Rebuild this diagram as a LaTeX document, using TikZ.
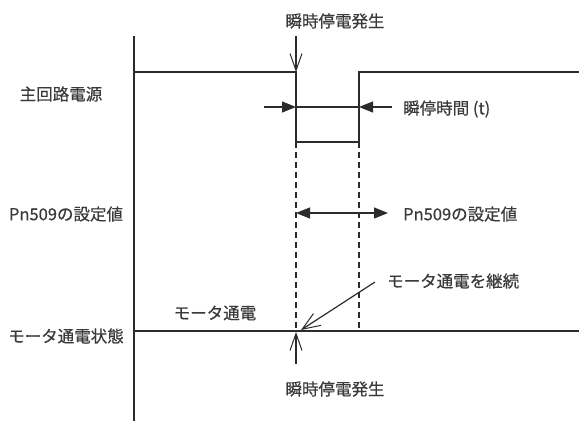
\documentclass[tikz,border=0pt]{standalone}
\usepackage{fontspec}
\setmainfont{Noto Sans CJK JP}
\newfontfamily\jp[FakeBold=0.5]{Noto Sans CJK JP}
\usetikzlibrary{arrows.meta}
\definecolor{ink}{HTML}{2B2B2B}
\definecolor{txt}{HTML}{3A3A3A}
\begin{document}
\begin{tikzpicture}[x=1pt,y=-1pt,
  lbl/.style={font=\jp\fontsize{16.5}{19}\selectfont, text=txt, inner sep=0pt},
  sig/.style={draw=ink, line width=1.4pt},
  thin/.style={draw=ink, line width=1.2pt},
  dsh/.style={draw=ink, line width=1.3pt, dash pattern=on 6pt off 4pt},
  openhead/.style={-{Straight Barb[length=17pt,width=12pt,line width=1pt]}},
  fillhead/.style={-{Triangle[length=14pt,width=11pt]}},
]
\useasboundingbox (0,0) rectangle (579,421);
% coordinates
\coordinate (axT) at (134,36);
\coordinate (axB) at (134,421);
\coordinate (p1) at (134,72);
\coordinate (p2) at (296,72);
\coordinate (p3) at (296,142);
\coordinate (p4) at (359,142);
\coordinate (p5) at (359,72);
\coordinate (p6) at (579,72);
\coordinate (mt) at (296,36);
\coordinate (dl) at (264,107);
\coordinate (da) at (296,107);
\coordinate (db) at (359,107);
\coordinate (dr) at (392,107);
\coordinate (q1) at (296,331);
\coordinate (q2) at (359,331);
\coordinate (b0) at (134,331);
\coordinate (b1) at (579,331);
\coordinate (pa) at (296,213);
\coordinate (pb) at (388,213);
\coordinate (cs) at (375,282);
\coordinate (ce) at (301,330);
\coordinate (ms) at (296,364);
\coordinate (me) at (296,332);
% texts
\node[lbl] (tTop) at (335,21) {瞬時停電発生};
\node[lbl] (tMain) at (61,94) {主回路電源};
\node[lbl, anchor=west] (tT) at (403,109) {瞬停時間 (t)};
\node[lbl] (tPnL) at (66,214) {Pn509の設定値};
\node[lbl, anchor=west] (tPnR) at (403,214) {Pn509の設定値};
\node[lbl, anchor=west] (tCont) at (387,281) {モータ通電を継続};
\node[lbl] (tMot) at (215,313) {モータ通電};
\node[lbl] (tState) at (66,336) {モータ通電状態};
\node[lbl] (tBot) at (335,389) {瞬時停電発生};
% axis
\draw[sig] (axT) -- (axB);
% main power signal
\draw[sig] (p1) -- (p2) -- (p3) -- (p4) -- (p5) -- (p6);
% top marker
\draw[thin, openhead] (mt) -- (p2);
% dimension
\draw[thin] (da) -- (db);
\draw[thin, fillhead] (dl) -- (da);
\draw[thin, fillhead] (dr) -- (db);
% dashed lines
\draw[dsh] (p3) -- (q1);
\draw[dsh] (p4) -- (q2);
% Pn509 arrow
\draw[thin, {Triangle[length=14pt,width=11pt]}-{Triangle[length=14pt,width=11pt]}] (pa) -- (pb);
% motor state
\draw[sig] (b0) -- (b1);
% continue arrow
\draw[thin, -{Straight Barb[length=18pt,width=14pt,line width=1pt]}] (cs) -- (ce);
% bottom marker
\draw[thin, openhead] (ms) -- (me);
\end{tikzpicture}
\end{document}
